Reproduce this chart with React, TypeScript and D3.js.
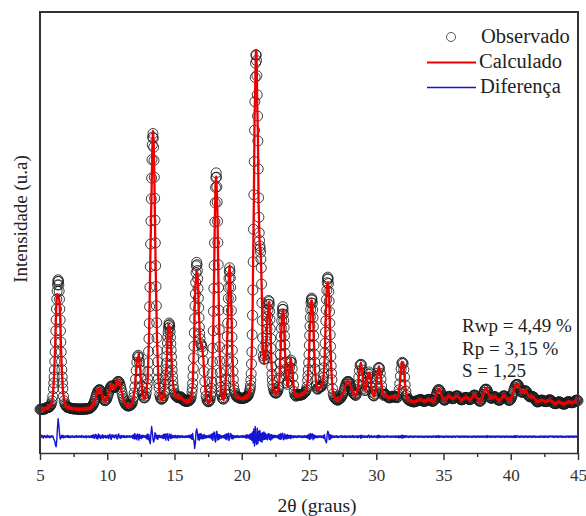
import React, { useEffect, useRef } from "react";
import * as d3 from "d3";

// 2θ grid: 5.00° to 45.00° in 0.05° steps (801 points)
const TWO_THETA_START = 5;
const TWO_THETA_STEP = 0.05;

// Observed intensity (counts), one row per degree (20 points each)
const observed: number[] = [
  432,428,434,430,436,432,438,434,440,450,452,452,455,458,462,470,485,505,540,597,
  697,847,1046,1296,1580,1846,2030,2096,2030,1846,1580,1296,1046,847,697,597,540,505,485,470,
  462,458,455,452,450,447,444,442,440,438,436,438,440,436,432,435,438,434,430,433,
  436,434,438,432,428,434,440,436,432,436,440,436,442,440,446,452,458,466,478,494,
  512,534,560,589,618,642,663,675,684,681,670,650,628,601,576,556,545,542,550,562,
  585,610,640,668,695,718,730,732,726,718,712,712,722,740,762,780,790,788,772,748,
  716,680,640,600,566,540,518,502,490,482,480,473,475,478,482,488,497,511,541,582,
  640,720,817,930,1035,1107,1126,1102,1034,933,826,733,663,614,586,577,582,602,639,705,
  823,1029,1339,1751,2264,2851,3403,3830,3975,3800,3414,2863,2277,1762,1350,1042,825,707,620,585,
  565,560,571,582,608,663,752,872,1024,1197,1361,1473,1540,1490,1357,1191,1016,861,736,689,
  641,619,606,598,590,585,578,580,588,592,588,576,562,552,545,540,538,532,534,535,
  538,540,544,552,565,592,650,764,958,1242,1597,1914,2186,2320,2215,1985,1736,1489,1340,1273,
  1260,1235,1172,1056,918,787,676,601,558,540,528,530,541,557,604,701,893,1218,1690,2280,
  2840,3283,3470,3290,2848,2290,1704,1235,903,715,621,579,564,563,582,633,739,925,1197,1539,
  1856,2114,2250,2119,1861,1535,1191,917,728,677,640,614,601,592,588,586,583,573,575,572,
  574,572,574,575,578,580,584,589,596,605,618,642,677,739,889,1169,1640,2328,3189,4017,
  4696,4988,4912,4473,3880,3150,2700,2530,2450,2250,1800,1350,1120,1075,1080,1130,1230,1380,1540,1710,
  1830,1778,1586,1342,1087,882,742,700,665,650,640,640,645,655,680,720,833,1019,1253,1474,
  1655,1750,1656,1482,1264,1037,867,771,752,795,880,969,1041,1063,1035,954,847,742,659,620,
  605,600,612,618,622,620,615,612,615,620,622,625,635,645,650,662,682,722,802,938,
  1134,1380,1614,1799,1860,1795,1610,1378,1135,945,810,735,695,690,700,712,714,719,724,733,
  754,800,892,1050,1280,1568,1842,2058,2130,2048,1822,1538,1240,990,812,698,630,597,581,569,
  564,555,552,548,560,564,569,576,588,603,622,644,670,699,728,752,773,785,790,785,
  773,755,730,700,672,652,640,630,620,610,614,638,685,749,841,928,997,1010,1003,937,
  855,763,701,672,680,718,779,840,883,912,889,839,776,704,651,616,604,606,628,665,
  732,816,896,959,970,955,893,816,732,665,628,610,620,625,622,612,600,590,585,580,
  578,582,590,598,600,596,590,588,590,592,583,581,598,628,681,759,857,950,1023,1035,
  1019,942,845,745,665,610,578,561,553,548,545,540,536,532,530,528,526,528,532,536,
  540,541,543,548,552,555,556,554,549,543,536,532,535,538,542,546,552,557,560,558,
  553,546,540,535,534,538,545,564,588,615,642,665,680,685,680,665,642,615,593,571,
  558,550,549,555,565,573,585,592,599,598,593,585,574,568,568,571,579,589,599,602,
  605,602,594,581,571,562,556,553,556,562,566,576,583,585,583,580,572,565,557,555,
  559,567,577,589,603,612,615,612,603,589,572,561,548,539,535,537,547,568,592,621,
  649,674,689,690,689,674,649,629,605,588,577,573,575,583,585,592,595,592,585,573,
  565,554,549,547,551,559,566,581,594,602,605,602,594,581,574,562,553,547,547,553,
  560,580,603,630,660,690,715,738,750,750,752,746,723,702,681,663,653,649,652,659,
  667,671,670,660,652,627,613,601,594,591,593,596,599,593,589,580,566,551,536,528,
  525,532,535,536,543,548,550,548,543,540,534,530,530,531,537,538,547,552,554,551,
  545,535,525,517,510,505,504,503,510,516,522,526,527,525,520,513,506,502,499,497,
  500,500,509,517,524,528,530,528,523,516,518,516,516,520,527,531,541,548,550,548,
  541,
];

// Extra observed points read on the steep flanks of the strong reflections: [2θ, counts]
const observedFlanks: [number, number][] = [
  [6.025,770],[6.075,940],[6.125,1168],[6.175,1440],[6.225,1720],[6.275,1950],[6.325,2075],
  [6.375,2075],[6.425,1950],[6.475,1720],[6.525,1440],[6.575,1168],[6.625,940],[6.675,770],
  [12.975,760],[13.025,918],[13.075,1175],[13.125,1535],[13.175,2000],[13.225,2555],[13.275,3135],
  [13.325,3640],[13.375,3930],[13.425,3915],[13.475,3630],[13.525,3145],[13.575,2570],[13.625,2010],
  [13.675,1545],[13.725,1185],[13.775,925],[13.825,760],
  [14.325,810],[14.375,945],[14.425,1110],[14.475,1282],[14.525,1422],[14.575,1512],[14.625,1520],
  [14.675,1428],[14.725,1275],[14.775,1105],[14.825,937],[14.875,795],
  [16.325,700],[16.375,855],[16.425,1092],[16.475,1415],[16.525,1762],[16.575,2060],[16.625,2275],
  [16.675,2290],[16.725,2110],[16.775,1860],[16.825,1610],[16.875,1405],
  [17.725,645],[17.775,785],[17.825,1040],[17.875,1440],[17.925,1985],[17.975,2570],[18.025,3085],
  [18.075,3410],[18.125,3415],[18.175,3095],[18.225,2575],[18.275,1995],[18.325,1455],[18.375,1050],
  [18.425,795],[18.475,660],
  [18.775,680],[18.825,822],[18.875,1055],[18.925,1368],[18.975,1705],[19.025,1995],[19.075,2200],
  [19.125,2205],[19.175,2000],[19.225,1700],[19.275,1360],[19.325,1045],[19.375,815],
  [20.625,700],[20.675,805],[20.725,1015],[20.775,1390],[20.825,1965],[20.875,2745],[20.925,3615],
  [20.975,4385],[21.025,4880],[21.075,4980],[21.125,4720],[21.175,4200],[21.225,3520],[21.275,2900],
  [21.325,2600],[21.375,2495],[21.425,2360],[21.475,2040],[21.525,1570],[21.575,1220],
  [21.825,1305],[21.875,1460],[21.925,1625],[21.975,1780],[22.025,1815],[22.075,1690],[22.125,1465],
  [22.175,1215],[22.225,980],[22.275,808],
  [22.825,922],[22.875,1135],[22.925,1365],[22.975,1570],[23.025,1715],[23.075,1715],[23.125,1575],
  [23.175,1375],[23.225,1150],[23.275,948],
  [24.925,865],[24.975,1030],[25.025,1255],[25.075,1500],[25.125,1715],[25.175,1840],[25.225,1838],
  [25.275,1710],[25.325,1495],[25.375,1255],[25.425,1035],
  [26.075,840],[26.125,965],[26.175,1160],[26.225,1425],[26.275,1710],[26.325,1960],[26.375,2110],
  [26.425,2105],[26.475,1945],[26.525,1685],[26.575,1390],[26.625,1110],[26.675,895],
];

// Difference (observed - calculated), same grid as observed
const difference: number[] = [
  10,-15,20,-5,12,-18,8,15,-10,5,-12,18,-6,10,-14,6,-8,12,-4,10,
  -20,-40,-60,-110,-130,-40,120,230,150,40,-30,-20,15,-10,20,-15,8,-12,10,-5,
  12,-8,15,-10,6,-14,10,-6,12,-8,5,-12,9,-5,14,-10,6,-8,12,-6,
  8,-10,14,-6,10,-12,5,-8,12,-15,8,-4,10,-12,6,-8,14,-10,20,-15,
  25,-20,10,30,-25,15,-30,35,-10,20,-25,10,-15,25,-20,12,-8,15,-18,10,
  -12,20,-25,15,30,-20,-35,25,15,-10,20,-15,10,25,-20,-30,20,35,-15,10,
  -20,15,-10,12,-8,15,-12,6,-10,14,-8,10,-5,12,-10,8,-6,15,-20,25,
  -30,40,-25,20,-40,35,25,-45,30,-20,15,-25,20,-10,15,-8,12,-15,20,-30,
  35,-40,25,-60,-90,40,130,60,-30,-70,-40,50,30,-25,20,-35,15,-10,18,-12,
  10,-15,20,-25,30,-20,35,-45,25,40,-30,-50,35,20,-25,30,-20,15,-10,12,
  -15,20,-12,10,-18,15,-8,12,-14,10,-6,14,-10,8,-12,6,-10,12,-8,10,
  -12,15,-10,18,-20,25,-35,40,-30,-60,-150,-80,60,100,50,-40,30,-45,40,-25,
  35,-30,20,-25,30,-20,15,-18,12,-10,15,-12,20,-15,25,-30,40,-50,35,60,
  -40,-70,50,70,-45,30,-35,25,-20,15,-18,12,-10,15,-20,25,-30,35,-40,30,
  45,-50,-30,40,35,-25,20,-30,15,-12,10,-15,12,-8,14,-10,8,-12,10,-6,
  12,-10,15,-8,10,-14,18,-20,25,-15,20,-25,30,-35,40,-50,60,-80,100,-120,
  130,-60,-100,110,-90,70,-50,80,-60,40,-70,50,-40,60,-35,45,-30,25,-40,30,
  40,-35,30,-45,25,-30,20,-15,18,-12,15,-10,12,-15,20,-25,30,-35,40,-30,
  25,45,-40,-30,35,-25,20,-30,25,-20,15,-18,20,-25,15,-12,10,-15,12,-8,
  10,-12,8,-10,14,-6,10,-8,12,-10,6,-12,10,-8,14,-10,12,-15,20,-25,
  30,-35,40,-25,30,35,-40,25,-20,15,-12,10,-14,8,-10,12,-6,10,-12,8,
  -10,15,-20,25,-40,-60,-80,30,70,50,-40,25,-30,20,-15,12,-10,8,-12,10,
  -8,12,-10,6,-12,8,-6,10,-8,14,-10,6,-8,12,-10,8,-12,10,-6,8,
  -10,12,-8,6,-10,14,-8,10,-12,8,-6,10,-14,12,-10,8,15,-20,18,-12,
  10,-8,12,-10,6,-8,10,-12,15,20,-15,10,-8,12,-10,6,-8,10,-6,8,
  -10,12,-15,18,-12,14,-10,8,-6,10,-8,6,-10,8,-6,10,-8,12,-6,8,
  -8,6,-10,8,-6,10,-8,6,-10,12,-8,6,-10,12,-14,10,-12,15,-18,20,
  -15,12,-10,14,-8,10,-6,8,-10,6,-8,10,-6,8,-10,6,-8,10,-6,8,
  -6,8,-10,6,-8,10,-6,8,-10,6,-8,6,-10,8,-6,10,-8,6,-10,8,
  -6,8,-10,6,-8,10,-6,8,-10,12,-8,10,-12,14,-10,8,-6,10,-8,6,
  -8,6,-10,8,-6,10,-8,6,-10,8,-6,8,-10,6,-8,10,-6,8,-10,6,
  8,-6,10,-8,6,-10,8,-6,10,-8,6,-8,10,-6,8,-10,6,-8,10,-6,
  -6,8,-10,6,-8,10,-6,8,-10,6,-8,10,-6,8,-10,6,-8,10,-6,8,
  -10,8,-6,10,-12,14,-10,8,-6,10,-8,6,-10,8,-6,10,-8,6,-10,8,
  6,-8,10,-6,8,-10,6,-8,10,-6,8,-10,6,-8,10,-6,8,-10,6,-8,
  10,-8,6,-10,8,-12,14,-10,12,-8,10,-6,8,-10,6,-8,10,-6,8,-10,
  6,-8,10,-6,8,-10,6,-8,10,-6,8,-10,6,-8,10,-6,8,-10,6,-8,
  -6,8,-10,6,-8,10,-6,8,-10,6,-8,10,-6,8,-10,6,-8,10,-6,8,
  8,-6,10,-8,6,-10,8,-6,10,-8,6,-10,8,-6,10,-8,6,-10,8,-6,
  -8,6,-10,8,-6,10,-8,6,-10,8,-6,10,-8,6,-10,8,-6,10,-8,6,
  0,
];

const DIFF_OFFSET = 80;
const Y_DOMAIN: [number, number] = [-130, 5550];
const X_DOMAIN: [number, number] = [5, 45];

const xMajorTicks = [5, 10, 15, 20, 25, 30, 35, 40, 45];
const xMinorTicks = [7.5, 12.5, 17.5, 22.5, 27.5, 32.5, 37.5, 42.5];

const legendLabels = ["Observado", "Calculado", "Diferença"];
const statsLines = ["Rwp = 4,49 %", "Rp = 3,15 %", "S = 1,25"];
const xTitle = "2θ (graus)";
const yTitle = "Intensidade (u.a)";

const FONT = "'Liberation Serif', 'Times New Roman', serif";
const FRAME = "#333333";
const RED = "#ee0000";
const BLUE = "#1414d2";

export default function App() {
  const W = 586;
  const H = 516;
  const left = 40;
  const right = 578;
  const top = 11;
  const bottom = 453;

  const x = d3.scaleLinear().domain(X_DOMAIN).range([left, right]);
  const y = d3.scaleLinear().domain(Y_DOMAIN).range([bottom, top]);

  const twoTheta = observed.map((_, i) => TWO_THETA_START + i * TWO_THETA_STEP);
  const calculated = observed.map((o, i) => o - difference[i]);

  const calcLine = d3
    .line<number>()
    .x((_, i) => x(twoTheta[i]))
    .y((d) => y(d));
  const diffLine = d3
    .line<number>()
    .x((_, i) => x(twoTheta[i]))
    .y((d) => y(d + DIFF_OFFSET));

  const majorRef = useRef<SVGGElement>(null);
  const minorRef = useRef<SVGGElement>(null);

  useEffect(() => {
    if (majorRef.current) {
      const g = d3.select(majorRef.current);
      g.call(
        d3
          .axisBottom(x)
          .tickValues(xMajorTicks)
          .tickSize(7)
          .tickSizeOuter(0)
          .tickPadding(9)
          .tickFormat(d3.format("d"))
      );
      g.attr("font-family", FONT).attr("font-size", 17);
      g.select(".domain").attr("stroke", FRAME).attr("stroke-width", 1.5);
      g.selectAll(".tick line").attr("stroke", FRAME).attr("stroke-width", 1.4);
      g.selectAll(".tick text").attr("fill", "#333").style("font-family", FONT);
    }
    if (minorRef.current) {
      const g = d3.select(minorRef.current);
      g.call(
        d3
          .axisBottom(x)
          .tickValues(xMinorTicks)
          .tickSize(4)
          .tickSizeOuter(0)
          .tickFormat(() => "")
      );
      g.select(".domain").remove();
      g.selectAll(".tick line").attr("stroke", FRAME).attr("stroke-width", 1.4);
    }
  }, []);

  return (
    <svg
      width={W}
      height={H}
      style={{ position: "absolute", left: 0, top: 0, background: "#fff", fontFamily: FONT }}
    >
      {/* observed circles */}
      <g fill="none" stroke="#1a1a1a" strokeWidth={1} strokeOpacity={0.85}>
        {observed.map((v, i) => (
          <circle key={"o" + i} cx={x(twoTheta[i])} cy={y(v)} r={5} />
        ))}
        {observedFlanks.map(([t, v], i) => (
          <circle key={"f" + i} cx={x(t)} cy={y(v)} r={5} />
        ))}
      </g>
      {/* calculated */}
      <path d={calcLine(calculated) || ""} fill="none" stroke={RED} strokeWidth={2.3} strokeLinejoin="round" />
      {/* difference */}
      <path d={diffLine(difference) || ""} fill="none" stroke={BLUE} strokeWidth={1.4} strokeLinejoin="round" />

      <g ref={minorRef} transform={`translate(0,${bottom})`} />
      <g ref={majorRef} transform={`translate(0,${bottom})`} />

      {/* frame: left, top, right edges as filled bars */}
      <rect x={left - 1} y={top} width={2} height={bottom - top + 1} fill={FRAME} />
      <rect x={left - 1} y={top} width={right - left + 2} height={2} fill={FRAME} />
      <rect x={right - 1} y={top} width={2} height={bottom - top + 1} fill={FRAME} />

      {/* legend */}
      <circle cx={451} cy={37} r={4.5} fill="none" stroke="#555" strokeWidth={1} />
      <text x={481} y={43} fontSize={20.5} fill="#222" style={{ fontFamily: FONT }}>{legendLabels[0]}</text>
      <line x1={427} x2={476} y1={62.5} y2={62.5} stroke={RED} strokeWidth={2} />
      <text x={479} y={68} fontSize={20.5} fill="#222" style={{ fontFamily: FONT }}>{legendLabels[1]}</text>
      <line x1={427} x2={476} y1={87.5} y2={87.5} stroke={BLUE} strokeWidth={1.5} />
      <text x={480} y={93} fontSize={20.5} fill="#222" style={{ fontFamily: FONT }}>{legendLabels[2]}</text>

      {/* statistics */}
      {statsLines.map((s, i) => (
        <text key={s} x={462} y={332 + i * 22.5} fontSize={19} fill="#222" style={{ fontFamily: FONT }}>{s}</text>
      ))}

      {/* axis titles */}
      <text x={317} y={512} fontSize={19.5} textAnchor="middle" fill="#222" style={{ fontFamily: FONT }}>{xTitle}</text>
      <text transform="translate(27,219) rotate(-90)" fontSize={19} textAnchor="middle" fill="#222" style={{ fontFamily: FONT }}>{yTitle}</text>
    </svg>
  );
}
